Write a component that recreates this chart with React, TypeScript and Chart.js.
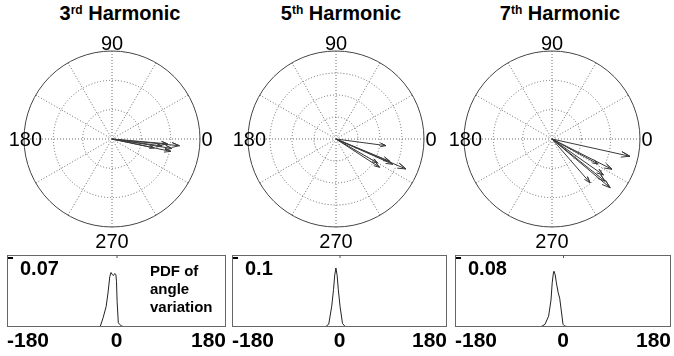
import React, { useEffect, useRef } from "react";
import { Chart, registerables } from "chart.js";

Chart.register(...registerables);

const FONT = "'Liberation Sans', Arial, Helvetica, sans-serif";

// ---- titles ----
const harmonicOrders = ["3", "5", "7"];
const harmonicSuffixes = ["rd", "th", "th"];
const angleTickLabels = ["0", "90", "180", "270"];

// ---- compass plots: rings = radial max (grid rings), arrow magnitude (ring units) & angle (deg) ----
const ringCounts = [3, 4, 3];
const h3Magnitudes = [2.31, 2.05, 1.47, 1.9, 1.72, 2.07];
const h3Angles = [-5.7, -11.9, -12, -5, -8, -9];
const h5Magnitudes = [2.29, 3.46, 2.64, 2.36, 2.18, 2.82];
const h5Angles = [-7.6, -23.2, -22.5, -33, -30, -24];
const h7Magnitudes = [2.72, 2.29, 2.59, 1.98, 2.31, 1.79, 2.14];
const h7Angles = [-12.5, -26.8, -40, -49, -38.5, -28.5, -35];

// ---- PDF of angle variation ----
const pdfTicks = [-180, 0, 180];
const pdfMax = [0.07, 0.1, 0.08];
const pdfNote = ["PDF of", "angle", "variation"];
const pdf3X = [-30, -27, -22, -17, -14, -11, -9, -7, -5, -3, -1, 0, 1, 3, 8, 14];
const pdf3Y = [0, 0, 0.009, 0.02, 0.033, 0.049, 0.053, 0.051, 0.05, 0.052, 0.051, 0.044, 0.025, 0.004, 0.001, 0];
const pdf5X = [-24, -18, -13, -10, -8, -6, -4, -2, 1, 5, 10];
const pdf5Y = [0, 0.004, 0.029, 0.052, 0.072, 0.082, 0.072, 0.052, 0.028, 0.005, 0];
const pdf7X = [-38, -35, -30, -24, -20, -18, -16, -15, -13, -11, -8, -5.5, -3, 0, 3, 11];
const pdf7Y = [0, 0.001, 0.003, 0.012, 0.03, 0.049, 0.06, 0.062, 0.058, 0.049, 0.038, 0.032, 0.019, 0.003, 0.001, 0];

const arrowMagnitudes = [h3Magnitudes, h5Magnitudes, h7Magnitudes];
const arrowAngles = [h3Angles, h5Angles, h7Angles];
const pdfXs = [pdf3X, pdf5X, pdf7X];
const pdfYs = [pdf3Y, pdf5Y, pdf7Y];

// layout (px)
const POLAR_CX = [112, 336, 552];
const POLAR_R = 88;
const POLAR_CY = 139;
const TITLE_CX = [120, 341, 560];
const PDF_BOX = [
  { left: 5, width: 223 },
  { left: 230, width: 219 },
  { left: 453, width: 220 },
];
const HEAD_LEN = 0.11;
const HEAD_HALF = 0.035;

function PolarPanel({ idx }: { idx: number }) {
  const ref = useRef<HTMLCanvasElement>(null);
  const W = 224, H = 226, TOP = 27;
  const padL = (W - 2 * POLAR_R) / 2;
  const padT = POLAR_CY - POLAR_R - TOP;
  const padB = H - padT - 2 * POLAR_R;
  useEffect(() => {
    const rmax = ringCounts[idx];
    const mags = arrowMagnitudes[idx];
    const angs = arrowAngles[idx];
    const datasets = mags.map((m, k) => {
      const a = (angs[k] * Math.PI) / 180;
      const c = Math.cos(a), s = Math.sin(a);
      const rot = (u: number, v: number) => ({ x: u * c - v * s, y: u * s + v * c });
      const hl = 1 - HEAD_LEN;
      return {
        data: [rot(0, 0), rot(m, 0), rot(hl * m, HEAD_HALF * m), rot(m, 0), rot(hl * m, -HEAD_HALF * m)],
        showLine: true,
        borderColor: "#3a3a3a",
        borderWidth: 1,
        pointRadius: 0,
        fill: false,
        tension: 0,
        clip: false as any,
      };
    });
    const gridPlugin = {
      id: "polarGrid",
      beforeDatasetsDraw(chart: any) {
        const { ctx } = chart;
        const xs = chart.scales.x, ys = chart.scales.y;
        const cx = xs.getPixelForValue(0), cy = ys.getPixelForValue(0);
        const unit = xs.getPixelForValue(1) - cx;
        const R = rmax * unit;
        ctx.save();
        ctx.strokeStyle = "#6a6a6a";
        ctx.lineWidth = 1;
        ctx.setLineDash([1, 2]);
        for (let r = 1; r < rmax; r++) {
          ctx.beginPath();
          ctx.arc(cx, cy, r * unit, 0, 2 * Math.PI);
          ctx.stroke();
        }
        for (let d = 0; d < 360; d += 30) {
          const t = (d * Math.PI) / 180;
          ctx.beginPath();
          ctx.moveTo(cx, cy);
          ctx.lineTo(cx + R * Math.cos(t), cy - R * Math.sin(t));
          ctx.stroke();
        }
        ctx.setLineDash([]);
        ctx.strokeStyle = "#444";
        ctx.beginPath();
        ctx.arc(cx, cy, R, 0, 2 * Math.PI);
        ctx.stroke();
        ctx.fillStyle = "#000";
        ctx.font = `20px ${FONT}`;
        ctx.textBaseline = "alphabetic";
        ctx.textAlign = "left";
        ctx.fillText(angleTickLabels[0], cx + R + 1.5, cy + 7);
        ctx.textAlign = "center";
        ctx.fillText(angleTickLabels[1], cx, cy - R - 1);
        ctx.textAlign = "right";
        ctx.fillText(angleTickLabels[2], cx - R + 18, cy + 7);
        ctx.textAlign = "center";
        ctx.fillText(angleTickLabels[3], cx, cy + R + 21);
        ctx.restore();
      },
    };
    const chart = new Chart(ref.current!, {
      type: "scatter",
      data: { datasets: datasets as any },
      options: {
        animation: false,
        responsive: false,
        layout: { padding: { left: padL, right: padL, top: padT, bottom: padB } },
        plugins: { legend: { display: false }, tooltip: { enabled: false } },
        scales: {
          x: { type: "linear", min: -rmax, max: rmax, display: false },
          y: { type: "linear", min: -rmax, max: rmax, display: false },
        },
      },
      plugins: [gridPlugin],
    });
    return () => chart.destroy();
  }, [idx]);
  return (
    <canvas
      ref={ref}
      width={W}
      height={H}
      style={{ position: "absolute", left: POLAR_CX[idx] - W / 2, top: TOP, width: W, height: H }}
    />
  );
}

function PdfPanel({ idx }: { idx: number }) {
  const ref = useRef<HTMLCanvasElement>(null);
  const box = PDF_BOX[idx];
  const TOP = 250, H = 106;
  useEffect(() => {
    const boxPlugin = {
      id: "pdfBox",
      afterDatasetsDraw(chart: any) {
        const { ctx, chartArea: a } = chart;
        ctx.save();
        ctx.strokeStyle = "#666";
        ctx.lineWidth = 1;
        ctx.strokeRect(a.left + 0.5, a.top + 0.5, a.right - a.left - 1, a.bottom - a.top - 1);
        // tick marks
        ctx.fillStyle = "#000";
        ctx.fillRect(a.left + 1, a.top + 2, 5, 2);
        const x0 = chart.scales.x.getPixelForValue(0);
        ctx.strokeStyle = "#555";
        ctx.beginPath();
        ctx.moveTo(x0 + 0.5, a.top);
        ctx.lineTo(x0 + 0.5, a.top + 3);
        ctx.stroke();
        ctx.fillStyle = "#000";
        ctx.font = `bold 20px ${FONT}`;
        ctx.textAlign = "left";
        ctx.textBaseline = "alphabetic";
        ctx.fillText(String(pdfMax[idx]), a.left + 13, a.top + 20);
        if (idx === 0) {
          ctx.font = `bold 15px ${FONT}`;
          pdfNote.forEach((line, k) => ctx.fillText(line, a.left + 143, a.top + 21 + k * 18));
        }
        ctx.restore();
      },
    };
    const chart = new Chart(ref.current!, {
      type: "line",
      data: {
        datasets: [
          {
            data: pdfXs[idx].map((x, k) => ({ x, y: pdfYs[idx][k] })),
            borderColor: "#222",
            borderWidth: 1,
            pointRadius: 0,
            tension: 0,
            fill: false,
          },
        ],
      },
      options: {
        animation: false,
        responsive: false,
        layout: { padding: { top: 5, left: 0, right: 0, bottom: 0 } },
        plugins: { legend: { display: false }, tooltip: { enabled: false } },
        scales: {
          x: {
            type: "linear",
            min: -180,
            max: 180,
            afterBuildTicks: (s: any) => {
              s.ticks = pdfTicks.map((v) => ({ value: v }));
            },
            afterFit: (s: any) => {
              s.height = 29;
            },
            ticks: {
              align: "inner",
              maxRotation: 0,
              autoSkip: false,
              padding: 2,
              color: "#000",
              font: { family: FONT, size: 21, weight: "bold" },
            },
            grid: { display: false, drawTicks: false },
            border: { display: false },
          } as any,
          y: { display: false, min: 0, max: pdfMax[idx] },
        },
      },
      plugins: [boxPlugin],
    });
    return () => chart.destroy();
  }, [idx]);
  return (
    <canvas
      ref={ref}
      width={box.width}
      height={H}
      style={{ position: "absolute", left: box.left, top: TOP, width: box.width, height: H }}
    />
  );
}

export default function App() {
  return (
    <div
      style={{
        position: "absolute",
        left: 0,
        top: 0,
        width: 674,
        height: 356,
        background: "#fff",
        overflow: "hidden",
        fontFamily: FONT,
      }}
    >
      {harmonicOrders.map((o, i) => (
        <div
          key={"t" + i}
          style={{
            position: "absolute",
            left: TITLE_CX[i] - 100,
            top: 1,
            width: 200,
            textAlign: "center",
            fontWeight: "bold",
            fontSize: 20,
            lineHeight: "24px",
            color: "#000",
          }}
        >
          {o}
          <span style={{ fontSize: 12, position: "relative", top: -6 }}>{harmonicSuffixes[i]}</span> Harmonic
        </div>
      ))}
      {[0, 1, 2].map((i) => (
        <PolarPanel key={"p" + i} idx={i} />
      ))}
      {[0, 1, 2].map((i) => (
        <PdfPanel key={"d" + i} idx={i} />
      ))}
    </div>
  );
}
